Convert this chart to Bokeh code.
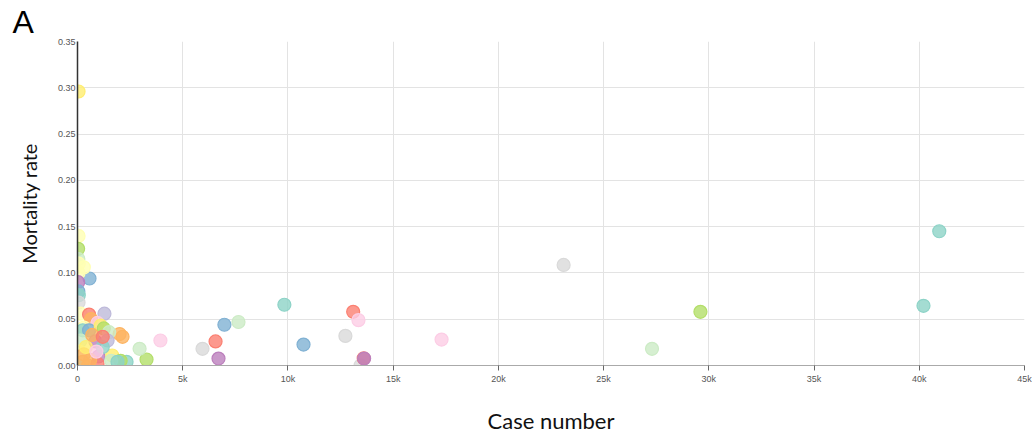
from bokeh.plotting import figure
from bokeh.models import FixedTicker, ColumnDataSource, Range1d
from bokeh.embed import file_html
from bokeh.resources import INLINE

palette = ["#8dd3c7", "#ffffb3", "#bebada", "#fb8072", "#80b1d3", "#fdb462",
           "#b3de69", "#fccde5", "#d9d9d9", "#bc80bd", "#ccebc5", "#ffed6f"]

case_number = [40950, 40200, 29600, 27300, 23100, 17300, 13450, 13600, 13620, 13100,
               13350, 12730, 10740, 9830, 7650, 6980, 6560, 6700, 5940, 3940,
               3280, 2950, 2330, 2140, 2000, 1280, 570,
               50, 50, 30, 40, 60, 300, 50, 30, 40, 60, 50,
               150, 550, 650, 950, 300, 250, 550, 1100, 1250, 1500,
               150, 850, 1430, 80, 1000, 1650, 2050, 50, 500, 950,
               300, 600, 400, 1200, 1600, 1900, 700, 1200, 250, 900]
mortality = [0.145, 0.0645, 0.058, 0.018, 0.1086, 0.028, 0.0, 0.0078, 0.0075, 0.058,
             0.049, 0.032, 0.0226, 0.0656, 0.047, 0.044, 0.026, 0.0075, 0.018, 0.027,
             0.0065, 0.018, 0.004, 0.031, 0.034, 0.056, 0.094,
             0.296, 0.140, 0.126, 0.115, 0.110, 0.106, 0.100, 0.090, 0.080, 0.076, 0.068,
             0.056, 0.055, 0.050, 0.046, 0.041, 0.038, 0.038, 0.043, 0.040, 0.036,
             0.027, 0.026, 0.027, 0.015, 0.0097, 0.0108, 0.005, 0.0, 0.0, 0.002,
             0.012, 0.006, 0.020, 0.020, 0.005, 0.004, 0.033, 0.031, 0.004, 0.015]
color_index = [0, 0, 6, 10, 8, 7, 8, 3, 9, 3,
               7, 8, 4, 0, 10, 4, 3, 9, 8, 7,
               6, 10, 0, 5, 5, 2, 4,
               11, 1, 6, 10, 1, 1, 1, 9, 4, 0, 8,
               1, 3, 5, 7, 1, 0, 4, 11, 6, 10,
               10, 9, 2, 1, 9, 11, 6, 0, 5, 3,
               5, 5, 11, 0, 10, 0, 5, 3, 5, 7]

x_ticks = [0, 5000, 10000, 15000, 20000, 25000, 30000, 35000, 40000, 45000]
x_tick_labels = ["0", "5k", "10k", "15k", "20k", "25k", "30k", "35k", "40k", "45k"]
y_ticks = [0.0, 0.05, 0.1, 0.15, 0.2, 0.25, 0.3, 0.35]
y_tick_labels = ["0.00", "0.05", "0.10", "0.15", "0.20", "0.25", "0.30", "0.35"]

colors = [palette[i] for i in color_index]
src = ColumnDataSource(dict(x=case_number, y=mortality, c=colors))

p = figure(width=1032, height=436, output_backend="svg", toolbar_location=None,
           x_range=Range1d(0, 45000), y_range=Range1d(0, 0.35),
           min_border_left=77, min_border_right=8, min_border_top=41, min_border_bottom=69)
p.outline_line_color = None

p.title.text = "A"
p.title.text_font = "Liberation Sans"
p.title.text_font_size = "32px"
p.title.text_font_style = "normal"
p.title.text_color = "#000000"
p.title.text_line_height = 1.0
p.title.align = "left"
p.title.standoff = 3
p.title.offset = -65

p.scatter("x", "y", source=src, size=13, fill_color="c", fill_alpha=0.8,
          line_color="c", line_alpha=1.0, line_width=1.2)

p.xaxis.ticker = FixedTicker(ticks=x_ticks)
p.yaxis.ticker = FixedTicker(ticks=y_ticks)
p.xaxis.major_label_overrides = {t: l for t, l in zip(x_ticks, x_tick_labels)}
p.yaxis.major_label_overrides = {t: l for t, l in zip(y_ticks, y_tick_labels)}

p.xgrid.grid_line_color = "#e3e3e3"
p.ygrid.grid_line_color = "#e3e3e3"

for ax in (p.xaxis, p.yaxis):
    ax.major_label_text_font = "Liberation Sans"
    ax.major_label_text_font_size = "9px"
    ax.major_label_text_color = "#555555"
    ax.minor_tick_line_color = None
    ax.axis_label_text_font = "Lato"
    ax.axis_label_text_font_style = "normal"
    ax.axis_label_text_color = "#111111"

p.xaxis.axis_label_text_font_size = "22px"
p.yaxis.axis_label_text_font_size = "20px"

p.xaxis.axis_line_color = "#aaaaaa"
p.xaxis.major_tick_line_color = "#666666"
p.xaxis.major_tick_out = 5
p.xaxis.major_tick_in = 0
p.xaxis.major_label_standoff = 3
p.xaxis.axis_label = "Case number"
p.xaxis.axis_label_standoff = 20

p.yaxis.axis_line_color = "#333333"
p.yaxis.axis_line_width = 1.5
p.yaxis.major_tick_line_color = None
p.yaxis.major_tick_out = 0
p.yaxis.major_tick_in = 0
p.yaxis.major_label_standoff = 2
p.yaxis.axis_label = "Mortality rate"
p.yaxis.axis_label_standoff = 14

open("out.html", "w").write(file_html(p, INLINE))
